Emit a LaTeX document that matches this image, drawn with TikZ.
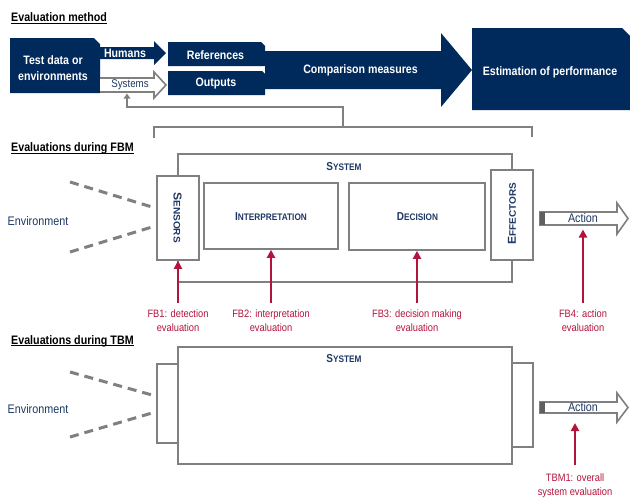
\documentclass[tikz,border=0pt]{standalone}
\usepackage{fontspec}
\setmainfont{Liberation Sans}[FakeStretch=0.87]
\usepackage{graphicx}
\usetikzlibrary{arrows.meta}
\definecolor{navy}{RGB}{0,42,92}
\definecolor{tnavy}{RGB}{31,56,100}
\definecolor{evred}{RGB}{180,20,60}
\definecolor{lgray}{RGB}{128,128,128}
\definecolor{dgray}{RGB}{95,95,95}
\newcommand\fakesc[2]{{\fontsize{11.5}{13}\selectfont #1}{\fontsize{9.5}{11}\selectfont #2}}
\begin{document}
\begin{tikzpicture}[x=1pt,y=-1pt,
  whitelbl/.style={text=white,font=\bfseries\fontsize{12.2}{15.5}\selectfont,inner sep=0,align=center},
  graybox/.style={draw=lgray,line width=1.6pt,fill=white,inner sep=0},
  sctext/.style={text=tnavy,font=\bfseries,inner sep=0},
  redlbl/.style={text=evred,font=\fontsize{10.7}{14}\selectfont,align=center,anchor=north,inner xsep=0,inner ysep=6.5pt},
  redarrow/.style={draw=evred,line width=2.6pt,-{Triangle[width=8pt,length=8pt]}},
  envdash/.style={draw=lgray,line width=3pt,dash pattern=on 9pt off 6pt},
  envlbl/.style={text=tnavy,font=\fontsize{12.4}{14}\selectfont,inner sep=0},
  title/.style={font=\bfseries\fontsize{12.3}{14}\selectfont,anchor=base west,inner sep=0},
  arrowout/.style={draw=lgray,line width=1.6pt,fill=white,line join=miter},
  actlbl/.style={text=tnavy,font=\fontsize{12.4}{13}\selectfont,inner sep=0},
  feedline/.style={draw=lgray,line width=1.8pt},
]
\useasboundingbox[fill=white] (0,0) rectangle (630,498);

% ---------- titles ----------
\node[title] (t1) at (11,21.5) {Evaluation method};
\node[title] (t2) at (11,151.5) {Evaluations during FBM};
\node[title] (t3) at (11,344) {Evaluations during TBM};
\foreach \t in {t1,t2,t3}{
  \draw[line width=0.9pt] ([yshift=-1.8pt]\t.base west) -- ([yshift=-1.8pt]\t.base east);
}

% ---------- evaluation method ----------
\fill[navy] (10,38) -- (94,38) -- (100,44) -- (100,93) -- (10,93) -- cycle;
\node[whitelbl] (testdata) at (53,68) {Test data or\\environments};

\fill[navy] (100,47) -- (154,47) -- (154,41) -- (166,53) -- (154,65) -- (154,59) -- (100,59) -- cycle;
\node[whitelbl] (humans) at (125,53.5) {Humans};

\draw[arrowout] (100,78) -- (154,78) -- (154,72) -- (166,85) -- (154,98) -- (154,92) -- (100,92);
\node[text=tnavy,font=\fontsize{11.2}{12}\selectfont,inner sep=0] (systems) at (130,85) {Systems};

\fill[navy] (265,51) -- (441,51) -- (441,33) -- (472,70) -- (441,107) -- (441,89) -- (265,89) -- cycle;
\node[whitelbl] (comparison) at (360.5,70) {Comparison measures};

\fill[navy] (168,42) -- (261,42) -- (265,46) -- (265,66) -- (168,66) -- cycle;
\node[whitelbl] (references) at (215.5,55.5) {References};
\fill[navy] (168,71) -- (262,71) -- (265,74) -- (265,95) -- (168,95) -- cycle;
\node[whitelbl] (outputs) at (216,84) {Outputs};

\fill[navy] (472,28) -- (622,28) -- (630,36) -- (630,110) -- (472,110) -- cycle;
\node[whitelbl] (estimation) at (550,72) {Estimation of performance};

% feedback bracket
\coordinate (brl) at (154,138);
\coordinate (brr) at (532,137);
\coordinate (brk) at (343,127);
\coordinate (sysin) at (127,93.5);
\draw[feedline] (brl) -- (154,127) -- (532,127) -- (brr);
\draw[feedline,-{Triangle[width=6.5pt,length=5pt]}] (brk) -- (343,107) -| (sysin);

% ---------- FBM ----------
\node[graybox,minimum width=334,minimum height=128] (sys1) at (345,218) {};
\node[sctext] (sys1lbl) at (344,167) {\fakesc{S}{YSTEM}};
\node[graybox,minimum width=42,minimum height=84] (sensors) at (178,218) {};
\node[sctext,rotate=-90] (sensorslbl) at (177.5,217.5) {\scalebox{1.22}[1]{\fakesc{S}{ENSORS}}};
\node[graybox,minimum width=134,minimum height=66] (interp) at (271,216) {};
\node[sctext] (interplbl) at (271,217) {\fakesc{I}{NTERPRETATION}};
\node[graybox,minimum width=136,minimum height=67] (decision) at (417,216.5) {};
\node[sctext] (decisionlbl) at (417.5,216.7) {\fakesc{D}{ECISION}};
\node[graybox,minimum width=42,minimum height=90] (effectors) at (512,215) {};
\node[sctext,rotate=90] (effectorslbl) at (512,214) {\scalebox{1.21}[1]{\fakesc{E}{FFECTORS}}};

\draw[arrowout] (540,212) -- (617,212) -- (617,203) -- (628,218.5) -- (617,234) -- (617,225) -- (540,225) -- cycle;
\fill[dgray] (540,212) rectangle (545,225);
\node[actlbl] (act1) at (583,218.5) {Action};
\coordinate (act1in) at (583,229.5);

\node[envlbl] (env1) at (38,221) {Environment};
\coordinate (e1a) at (70,182);
\coordinate (e1b) at (152,207);
\coordinate (e1c) at (70,252);
\coordinate (e1d) at (152,227);
\draw[envdash] (e1a) -- (e1b);
\draw[envdash] (e1c) -- (e1d);

\node[redlbl] (fb1) at (178,303) {FB1: detection\\evaluation};
\node[redlbl] (fb2) at (271,303) {FB2: interpretation\\evaluation};
\node[redlbl] (fb3) at (417,303) {FB3: decision making\\evaluation};
\node[redlbl] (fb4) at (583,303) {FB4: action\\evaluation};
\draw[redarrow] (fb1.north) -- (sensors.south);
\draw[redarrow] (fb2.north) -- (interp.south);
\draw[redarrow] (fb3.north) -- (decision.south);
\draw[redarrow] (fb4.north) -- (act1in);

% ---------- TBM ----------
\node[graybox,minimum width=21,minimum height=79] (inbox) at (167.5,403.5) {};
\node[graybox,minimum width=21,minimum height=84] (outbox) at (522.5,405) {};
\node[graybox,minimum width=334,minimum height=117] (sys2) at (345,405.5) {};
\node[sctext] (sys2lbl) at (344,359) {\fakesc{S}{YSTEM}};

\draw[arrowout] (540,402) -- (617,402) -- (617,393) -- (628,407.5) -- (617,422) -- (617,413) -- (540,413) -- cycle;
\fill[dgray] (540,402) rectangle (545,413);
\node[actlbl] (act2) at (583,407.5) {Action};
\coordinate (act2in) at (575,423);

\node[envlbl] (env2) at (38,409) {Environment};
\coordinate (e2a) at (70,372);
\coordinate (e2b) at (152,395);
\coordinate (e2c) at (70,437);
\coordinate (e2d) at (152,413);
\draw[envdash] (e2a) -- (e2b);
\draw[envdash] (e2c) -- (e2d);

\node[redlbl,inner ysep=8.5pt] (tbm1) at (575,465) {TBM1: overall\\system evaluation};
\draw[redarrow] (tbm1.north) -- (act2in);
\end{tikzpicture}
\end{document}
